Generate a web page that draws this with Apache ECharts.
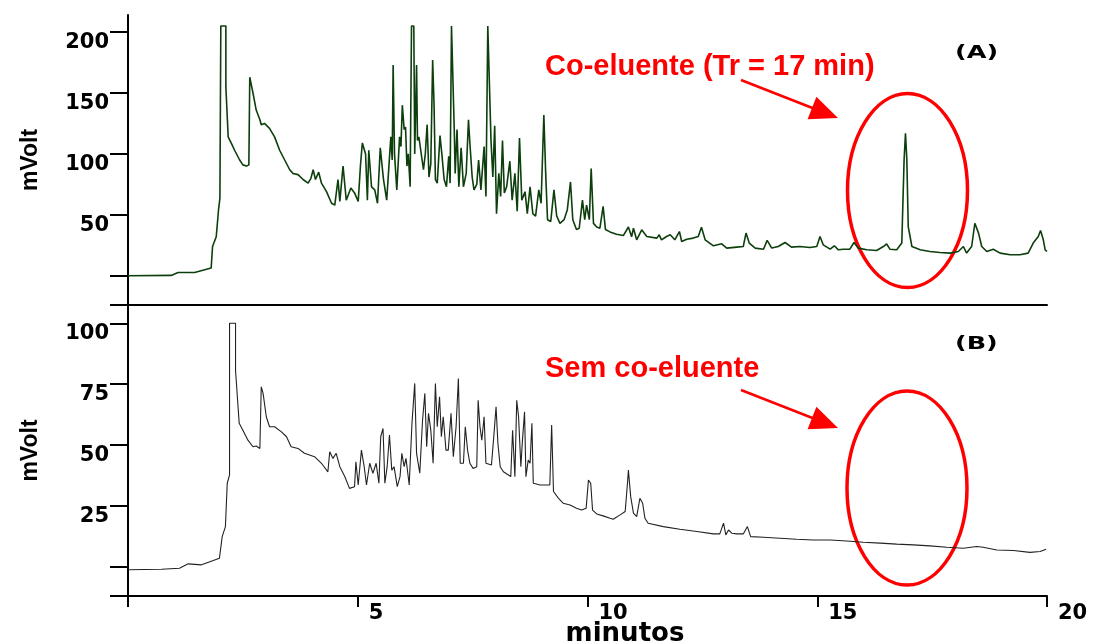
<!DOCTYPE html>
<html>
<head>
<meta charset="utf-8">
<script src="https://cdn.jsdelivr.net/npm/echarts@6/dist/echarts.min.js"></script>
<style>
html,body{margin:0;padding:0;background:#fff;}
#chart{width:1098px;height:644px;}
</style>
</head>
<body>
<div id="chart"></div>
<script>
// ---- Data ----
const timesA = [0.00,0.94,1.09,1.45,1.81,1.84,1.92,1.97,2.00,2.02,2.13,2.13,2.18,2.25,2.32,2.43,2.50,2.58,2.63,2.65,2.68,2.72,2.79,2.87,2.90,2.97,3.08,3.19,3.30,3.41,3.52,3.59,3.70,3.81,3.92,3.98,4.03,4.08,4.15,4.21,4.32,4.43,4.50,4.57,4.61,4.68,4.75,4.85,4.93,5.01,5.06,5.10,5.17,5.21,5.24,5.30,5.37,5.43,5.49,5.56,5.63,5.72,5.75,5.77,5.80,5.85,5.91,5.94,5.97,6.01,6.04,6.07,6.10,6.14,6.17,6.22,6.24,6.28,6.30,6.33,6.37,6.43,6.47,6.51,6.55,6.59,6.63,6.66,6.69,6.73,6.79,6.83,6.88,6.93,6.98,7.01,7.04,7.08,7.10,7.12,7.16,7.20,7.25,7.30,7.36,7.41,7.44,7.49,7.53,7.59,7.63,7.68,7.75,7.79,7.83,7.87,7.90,7.94,7.98,8.02,8.07,8.11,8.15,8.19,8.24,8.31,8.36,8.42,8.47,8.52,8.57,8.64,8.69,8.75,8.81,8.87,8.94,8.99,9.05,9.09,9.13,9.20,9.27,9.33,9.40,9.49,9.56,9.63,9.68,9.76,9.82,9.89,9.94,9.98,10.04,10.08,10.13,10.20,10.27,10.34,10.39,10.49,10.63,10.78,10.89,10.96,11.00,11.07,11.18,11.29,11.51,11.56,11.61,11.72,11.80,11.90,12.00,12.05,12.16,12.30,12.41,12.48,12.56,12.74,12.92,13.03,13.25,13.39,13.45,13.52,13.65,13.83,13.91,14.01,14.15,14.30,14.44,14.62,14.84,14.99,15.06,15.13,15.28,15.37,15.46,15.57,15.71,15.80,15.89,16.08,16.29,16.44,16.51,16.58,16.73,16.84,16.89,16.92,16.95,16.98,17.06,17.24,17.45,17.67,17.89,18.07,18.18,18.25,18.36,18.43,18.51,18.58,18.69,18.83,18.98,19.20,19.41,19.59,19.70,19.81,19.86,19.92,19.96,20.00];
const valuesA = [0,0.3,2.7,2.7,6.3,24,32,54,63.6,205,205,155,114,108.7,103,95,91,90,91,163,162,150,136,128,124,125,121,114,103,95,87,84,83,79,76,80,87,79,85,76,69,59.5,58,79,61,90,62,72,68,61,91,109,100,62,103,73,70.5,59.5,105,79,62,114,95,173,100,70.5,114,106,140,120,122,90,100,73,205,205,100,173,111,114,115,87,100,124,81,92,177,141,79,76,115,100,79,73,98,76,205,205,120,84,120,73,105,73,84,128,109,81,70.5,75,95,70.5,106,65,205,205,111,81,123,51,84,65,111,68,73,94,62,84,53,113,62,69,51,73,51,49,70.5,59.5,132,84,46,44.5,70.5,49,43,46,54,77,46,38,39,62,46,58,46,88,43,40,39,57,38,36,34,33,40,32,39,29.5,37.7,32.2,30.9,33.6,29.5,32.2,33.6,29.5,36.3,28.1,30,30.9,32.2,39.9,29.5,24.6,26.2,22.7,23.5,24,35,26.8,22.7,21.8,29,22.7,24,27.3,23.5,24,23.2,24,32.2,25.4,21.8,24.6,21.3,21.8,21.8,27.3,22.7,21.3,20.7,24,26.2,21.8,21.3,26.8,95,117,95,40.4,24,21.3,19.9,19.1,18.6,19.9,24,18.6,24,43.1,35,24,19.9,21.8,18.6,17.2,17.2,18.6,26.8,32.2,37.1,29.5,21.3,19.9];

const timesB = [0.00,0.73,1.12,1.31,1.60,1.99,2.05,2.12,2.16,2.21,2.21,2.34,2.34,2.38,2.42,2.50,2.61,2.72,2.79,2.87,2.90,2.94,3.01,3.08,3.19,3.34,3.45,3.55,3.70,3.84,3.95,4.06,4.21,4.35,4.39,4.46,4.53,4.61,4.72,4.82,4.93,4.96,5.01,5.08,5.14,5.19,5.26,5.33,5.40,5.46,5.50,5.55,5.59,5.64,5.69,5.74,5.79,5.86,5.92,5.96,6.01,6.05,6.12,6.18,6.24,6.28,6.35,6.41,6.46,6.50,6.54,6.59,6.64,6.69,6.73,6.78,6.82,6.86,6.92,6.97,7.03,7.08,7.14,7.19,7.23,7.30,7.34,7.39,7.44,7.51,7.59,7.62,7.66,7.70,7.75,7.79,7.91,7.96,8.01,8.05,8.10,8.17,8.28,8.33,8.37,8.42,8.46,8.50,8.55,8.58,8.63,8.66,8.71,8.75,8.79,8.82,8.97,9.18,9.22,9.26,9.37,9.47,9.62,9.76,9.87,9.97,10.02,10.07,10.11,10.20,10.34,10.49,10.56,10.71,10.82,10.87,10.89,10.94,11.00,11.07,11.14,11.20,11.25,11.32,11.65,12.01,12.38,12.74,12.88,12.96,13.01,13.07,13.14,13.25,13.39,13.48,13.55,13.83,14.19,14.55,14.91,15.28,15.64,16.00,16.37,16.73,17.09,17.45,17.82,18.18,18.47,18.61,18.91,19.27,19.63,19.85,19.98];
const valuesB = [-1.2,-1,-0.6,1.2,0.8,3.5,12.4,16.5,34.3,37.7,100,100,80.7,69.8,58.9,56.1,52,49.3,49.6,48.6,73.9,71.2,61.6,57.5,57.5,55.4,53.4,49.3,48.6,46.6,45.9,45.2,42.5,39,47.2,44.5,46.6,41.1,37,32.2,32.9,43.1,33.6,47.9,41.1,33.6,42.5,38.4,42.5,34.3,53.4,56.8,34.3,41.1,54.1,39.7,41.1,32.9,37,46.6,41.1,44.5,33.6,58.9,75.3,46.6,38.4,60.2,71.2,49.3,63,56.1,42.5,75.3,57.5,69.8,53.4,61.6,47.9,47.9,63,45.2,57.5,77.3,42.5,42.5,57.5,47.9,42.5,40.4,41.1,68.4,57.5,52,61.6,42.5,41.8,53.4,65.7,50.7,41.1,39,37.7,37,56.1,37,68.4,61.6,41.1,50.7,63.6,37,43.8,42.5,58.9,34.3,33.6,33.6,58.2,30.9,28.1,26.1,25.4,24,23.3,24,35.6,34.3,23.3,21.7,20.9,19.9,19.5,21.3,22.7,34.3,39.7,28.8,22,20.6,28.1,26.1,19.9,17.9,16.5,15.4,14.5,13.5,13.5,17.9,13.1,15.1,13.8,13.5,13.5,16.5,12.4,12.1,11.7,11.3,11,11,10.6,10.1,9.7,9.3,9,8.6,8.0,7.6,8.3,8.0,6.9,6.7,5.9,6.3,7.2];

const xTickLabels = [5, 10, 15, 20];
const yTickLabelsA = [50, 100, 150, 200];
const yTickLabelsB = [25, 50, 75, 100];
const yTicksA = [-24, 0, 50, 100, 150, 200];
const yTicksB = [-12, 0, 25, 50, 75, 100];

const pairsA = timesA.map((t, i) => [t, valuesA[i]]);
const pairsB = timesB.map((t, i) => [t, valuesB[i]]);

const chart = echarts.init(document.getElementById('chart'), null, {renderer: 'canvas'});
const axisColor = '#000';
const tickFont = {fontFamily: 'DejaVu Sans', fontWeight: 'bold', fontSize: 21, color: '#000'};
const nameFont = {fontFamily: 'Liberation Sans', fontWeight: 'bold', fontSize: 23, color: '#000'};

const option = {
  backgroundColor: '#fff',
  animation: false,
  grid: [
    {left: 128, right: 51, top: 15, height: 290, containLabel: false, outerBoundsMode: 'none'},
    {left: 128, right: 51, top: 305, height: 291, containLabel: false, outerBoundsMode: 'none'}
  ],
  xAxis: [
    {gridIndex: 0, type: 'value', min: 0, max: 20, interval: 5,
     axisLine: {show: true, onZero: false, lineStyle: {color: axisColor, width: 2}},
     axisTick: {show: false}, axisLabel: {show: false}, splitLine: {show: false}},
    {gridIndex: 1, type: 'value', min: 0, max: 20, interval: 5,
     axisLine: {show: true, onZero: false, lineStyle: {color: axisColor, width: 2}},
     axisTick: {show: true, length: 11, lineStyle: {color: axisColor, width: 2}},
     axisLabel: Object.assign({customValues: xTickLabels, align: 'left', padding: [0, 0, 0, 11], margin: 7, verticalAlign: 'top'}, tickFont),
     splitLine: {show: false},
     name: 'minutos', nameLocation: 'middle', nameGap: 25, nameMoveOverlap: false,
     nameTextStyle: Object.assign({}, tickFont, {fontSize: 26, verticalAlign: 'top', padding: [0, 0, 0, 75]})}
  ],
  yAxis: [
    {gridIndex: 0, type: 'value', min: -24, max: 214,
     axisLine: {show: true, onZero: false, lineStyle: {color: axisColor, width: 2}},
     axisTick: {show: true, customValues: yTicksA, length: 18, lineStyle: {color: axisColor, width: 2}},
     axisLabel: Object.assign({customValues: yTickLabelsA, margin: 19, verticalAlign: 'top'}, tickFont),
     splitLine: {show: false},
     name: 'mVolt', nameLocation: 'middle', nameRotate: 90, nameGap: 86, nameMoveOverlap: false, nameTextStyle: nameFont},
    {gridIndex: 1, type: 'value', min: -12, max: 107.5,
     axisLine: {show: true, onZero: false, lineStyle: {color: axisColor, width: 2}},
     axisTick: {show: true, customValues: yTicksB, length: 18, lineStyle: {color: axisColor, width: 2}},
     axisLabel: Object.assign({customValues: yTickLabelsB, margin: 19, verticalAlign: 'top'}, tickFont),
     splitLine: {show: false},
     name: 'mVolt', nameLocation: 'middle', nameRotate: 90, nameGap: 86, nameMoveOverlap: false, nameTextStyle: nameFont}
  ],
  series: [
    {type: 'line', xAxisIndex: 0, yAxisIndex: 0, data: pairsA, showSymbol: false, symbol: 'none',
     lineStyle: {color: '#0c3f0c', width: 1.6}, itemStyle: {color: '#0c3f0c'}},
    {type: 'line', xAxisIndex: 1, yAxisIndex: 1, data: pairsB, showSymbol: false, symbol: 'none',
     lineStyle: {color: '#222', width: 1.1}, itemStyle: {color: '#222'}}
  ],
  graphic: [
    {type: 'text', left: 545, top: 52, style: {text: 'Co-eluente (Tr = 17 min)', fill: '#ff0000', font: 'bold 29px "Liberation Sans"'}},
    {type: 'text', left: 545, top: 354, style: {text: 'Sem co-eluente', fill: '#ff0000', font: 'bold 29px "Liberation Sans"'}},
    {type: 'text', x: 955, y: 54, scaleX: 1.5, style: {text: '(A)', fill: '#000', font: 'bold 17px "DejaVu Sans"', textAlign: 'left', textVerticalAlign: 'middle'}},
    {type: 'text', x: 955, y: 345, scaleX: 1.5, style: {text: '(B)', fill: '#000', font: 'bold 17px "DejaVu Sans"', textAlign: 'left', textVerticalAlign: 'middle'}},
    {type: 'line', shape: {x1: 741, y1: 80, x2: 815, y2: 109}, style: {stroke: '#ff0000', lineWidth: 2.5}},
    {type: 'polygon', shape: {points: [[838, 118], [807.6, 119.2], [816.4, 96.8]]}, style: {fill: '#ff0000'}},
    {type: 'line', shape: {x1: 741, y1: 390, x2: 815, y2: 419}, style: {stroke: '#ff0000', lineWidth: 2.5}},
    {type: 'polygon', shape: {points: [[838, 428], [807.6, 429.2], [816.4, 406.8]]}, style: {fill: '#ff0000'}},
    {type: 'ellipse', shape: {cx: 907.5, cy: 190.5, rx: 60, ry: 97}, style: {stroke: '#ff0000', fill: null, lineWidth: 3.5}},
    {type: 'ellipse', shape: {cx: 907, cy: 488, rx: 60, ry: 97}, style: {stroke: '#ff0000', fill: null, lineWidth: 3.5}}
  ]
};
chart.setOption(option);
</script>
</body>
</html>
